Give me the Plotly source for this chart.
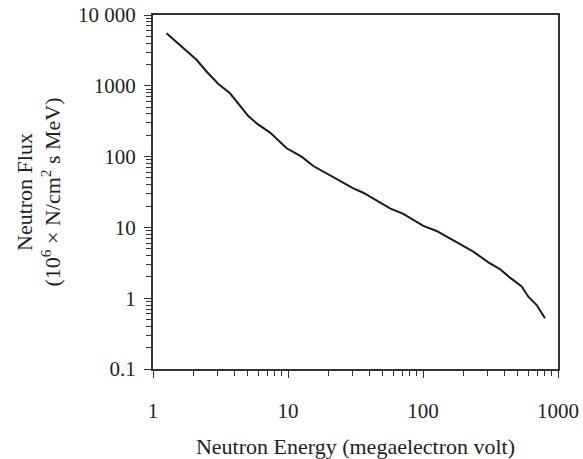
import plotly.graph_objects as go

energy = [1.26, 1.78, 2.11, 2.50, 3.05, 3.72, 4.28, 5.08, 5.86, 7.36, 9.78, 12.6, 15.4, 19.3,
          24.0, 30.5, 36.1, 57, 71.5, 100.5, 126, 178, 236, 305, 371, 441, 538, 603, 695, 801]
flux = [5510, 3130, 2310, 1580, 1060, 783, 566, 374, 295, 218, 131, 100, 73.6, 58,
        45, 35.6, 30.9, 18.6, 15.5, 10.5, 8.9, 6.08, 4.54, 3.21, 2.58, 1.95, 1.46, 1.05, 0.80, 0.52]

x_ticks = [1, 10, 100, 1000]
x_labels = ["1", "10", "100", "1000"]
y_ticks = [0.1, 1, 10, 100, 1000, 10000]
y_labels = ["0.1", "1", "10", "100", "1000", "10 000"]

def minors(lo, hi):
    out = []
    d = lo
    while d < hi:
        out += [d * k for k in range(2, 10)]
        d *= 10
    return out

fig = go.Figure(go.Scatter(x=energy, y=flux, mode="lines",
                           line=dict(color="#1a1a1a", width=2), showlegend=False))

font = dict(family="Liberation Serif", color="#222", size=21)
title_font = dict(family="Liberation Serif", size=22, color="#222")
fig.update_layout(
    width=583, height=459,
    margin=dict(l=153, r=25, t=15, b=90),
    paper_bgcolor="white", plot_bgcolor="white",
    font=font,
    xaxis=dict(type="log", range=[0, 3], tickvals=x_ticks, ticktext=x_labels,
               automargin=False, ticklabeloverflow="allow",
               ticks="outside", ticklen=7, tickwidth=1, tickcolor="#333",
               ticklabelstandoff=15, tickfont=dict(size=21),
               showline=True, linecolor="#333", linewidth=2, mirror=True,
               showgrid=False, zeroline=False,
               minor=dict(tickvals=minors(1, 1000), ticks="outside", ticklen=5,
                          tickcolor="#333", showgrid=False),
               title=dict(text="Neutron Energy (megaelectron volt)", font=title_font, standoff=16)),
    yaxis=dict(type="log", range=[-1, 4], tickvals=y_ticks, ticktext=y_labels,
               automargin=False, ticklabeloverflow="allow",
               ticks="outside", ticklen=7, tickwidth=1, tickcolor="#333",
               ticklabelstandoff=4, tickfont=dict(size=21),
               showline=True, linecolor="#333", linewidth=2, mirror=True,
               showgrid=False, zeroline=False,
               minor=dict(tickvals=minors(0.1, 10000), ticks="outside", ticklen=5,
                          tickcolor="#333", showgrid=False),
               title=dict(text="Neutron Flux<br>(10<sup>6</sup> × N/cm<sup>2</sup> s MeV)",
                          font=title_font, standoff=11)),
)

# remove the default 8px page margin so the figure sits at the window's corner
fig.write_html("out.html", config={"displayModeBar": False},
               post_script="document.body.style.margin='0';")
